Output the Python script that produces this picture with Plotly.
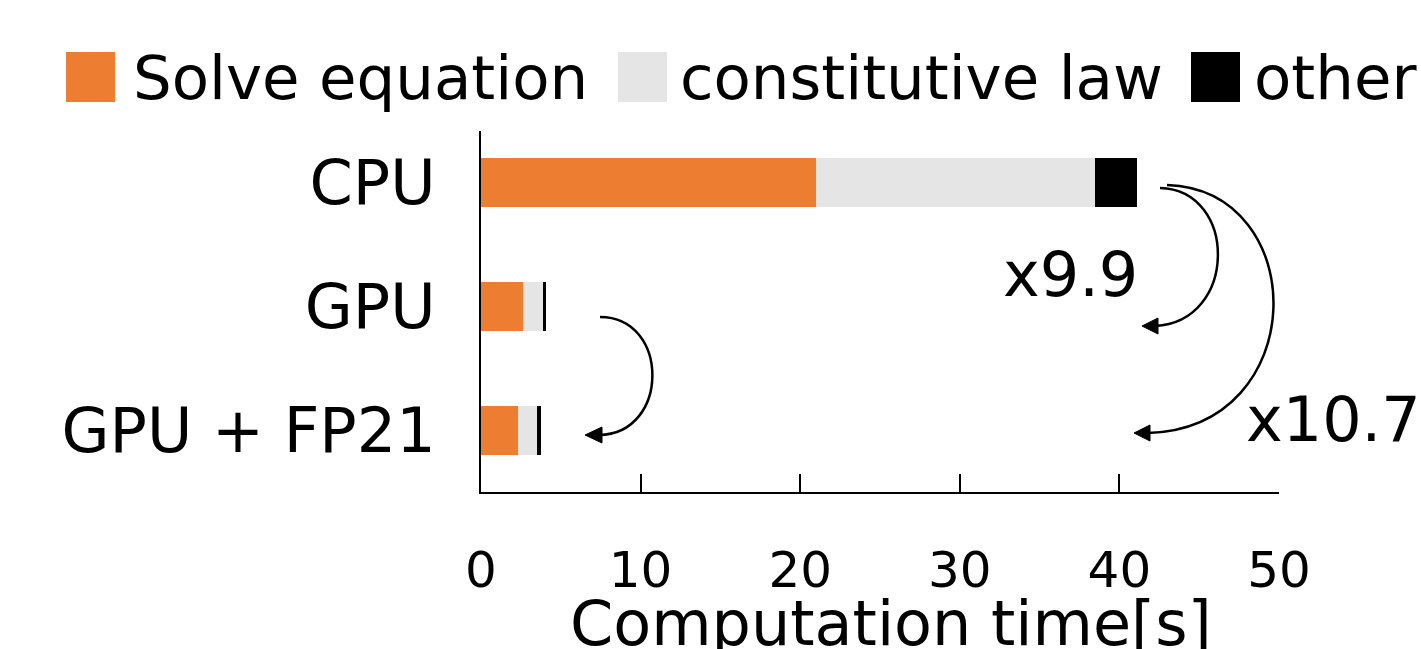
import plotly.graph_objects as go

# ---- data ----
categories = ["CPU", "GPU", "GPU + FP21"]
series_names = ["Solve equation", "constitutive law", "other"]
solve_equation = [21.0, 2.65, 2.32]
constitutive_law = [17.5, 1.21, 1.21]
other = [2.6, 0.23, 0.25]
speedup_labels = ["x9.9", "x10.7"]
x_ticks = [0, 10, 20, 30, 40, 50]
x_title = "Computation time[s]"

colors = ["#ED7D31", "#E5E5E5", "#000000"]
FONT = "DejaVu Sans"

W, H = 1421, 649
L, R, T, B = 481, 142, 131, 157
PW, PH = W - L - R, H - T - B


def px(x):
    return (x - L) / PW


def py(y):
    return (H - B - y) / PH


fig = go.Figure()
for name, vals, col in zip(series_names, [solve_equation, constitutive_law, other], colors):
    fig.add_trace(go.Bar(
        y=categories, x=vals, name=name, orientation="h",
        marker=dict(color=col, line=dict(width=0)),
        showlegend=False,
    ))

shapes = []
annotations = []

# ---- custom legend (large square swatches) ----
legend_pos = [(66, 135), (618, 682), (1191, 1256)]
for (sx, tx), name, col in zip(legend_pos, series_names, colors):
    shapes.append(dict(type="rect", xref="paper", yref="paper",
                       x0=px(sx), x1=px(sx + 49), y0=py(102), y1=py(52),
                       fillcolor=col, line=dict(width=0)))
    annotations.append(dict(text=name, xref="paper", yref="paper",
                            x=px(tx - 4), y=py(77), xanchor="left", yanchor="middle",
                            showarrow=False, font=dict(family=FONT, size=61, color="black")))


# ---- curved arrows ----
def curve(p0, c1, c2, p1):
    return dict(type="path", xref="paper", yref="paper",
                path=(f"M{px(p0[0])},{py(p0[1])} C{px(c1[0])},{py(c1[1])} "
                      f"{px(c2[0])},{py(c2[1])} {px(p1[0])},{py(p1[1])}"),
                line=dict(color="black", width=2.5))


def head(tip, b1, b2):
    return dict(type="path", xref="paper", yref="paper",
                path=(f"M{px(tip[0])},{py(tip[1])} L{px(b1[0])},{py(b1[1])} "
                      f"L{px(b2[0])},{py(b2[1])} Z"),
                fillcolor="black", line=dict(color="black", width=1))


# GPU -> GPU + FP21
shapes.append(curve((600, 317), (670, 317), (670, 434), (599, 435)))
shapes.append(head((585, 435), (602, 427), (602, 443)))
# CPU -> GPU (x9.9)
shapes.append(curve((1160, 188), (1238, 190), (1238, 322), (1155, 326)))
shapes.append(head((1142, 326), (1158, 318), (1158, 334)))
# CPU -> GPU + FP21 (x10.7)
shapes.append(curve((1167, 185), (1312, 190), (1312, 428), (1148, 433)))
shapes.append(head((1134, 433), (1150, 425), (1150, 441)))

annotations.append(dict(text=speedup_labels[0], xref="paper", yref="paper",
                        x=px(1001), y=py(274), xanchor="left", yanchor="middle",
                        showarrow=False, font=dict(family=FONT, size=62, color="black")))
annotations.append(dict(text=speedup_labels[1], xref="paper", yref="paper",
                        x=px(1244), y=py(419), xanchor="left", yanchor="middle",
                        showarrow=False, font=dict(family=FONT, size=62, color="black")))

# x-axis title (placed as annotation for exact position)
annotations.append(dict(text=x_title, xref="paper", yref="paper",
                        x=px(891), y=py(623), xanchor="center", yanchor="middle",
                        showarrow=False, font=dict(family=FONT, size=62, color="black")))

fig.update_layout(
    barmode="stack",
    bargap=0.605,
    width=W, height=H,
    margin=dict(l=L, r=R, t=T, b=B, autoexpand=False),
    plot_bgcolor="white", paper_bgcolor="white",
    font=dict(family=FONT, color="black"),
    shapes=shapes,
    annotations=annotations,
    xaxis=dict(
        range=[0, 50], tickvals=x_ticks, ticktext=[str(v) for v in x_ticks],
        ticks="inside", ticklen=18, tickwidth=2, tickcolor="black",
        showline=True, linecolor="black", linewidth=2, showgrid=False, zeroline=False,
        tickfont=dict(family=FONT, size=50, color="black"),
        ticklabelstandoff=33,
        automargin=False,
    ),
    yaxis=dict(
        type="category", categoryorder="array", categoryarray=categories,
        range=[2.496, -0.415],
        showline=True, linecolor="black", linewidth=2, showgrid=False, zeroline=False,
        ticks="", tickfont=dict(family=FONT, size=62, color="black"),
        ticklabelstandoff=31,
        automargin=False,
    ),
)

fig.write_html(
    "out.html",
    config={"displayModeBar": False},
    post_script="document.body.style.margin='0';document.body.style.overflow='hidden';"
                "document.documentElement.style.overflow='hidden';",
)
